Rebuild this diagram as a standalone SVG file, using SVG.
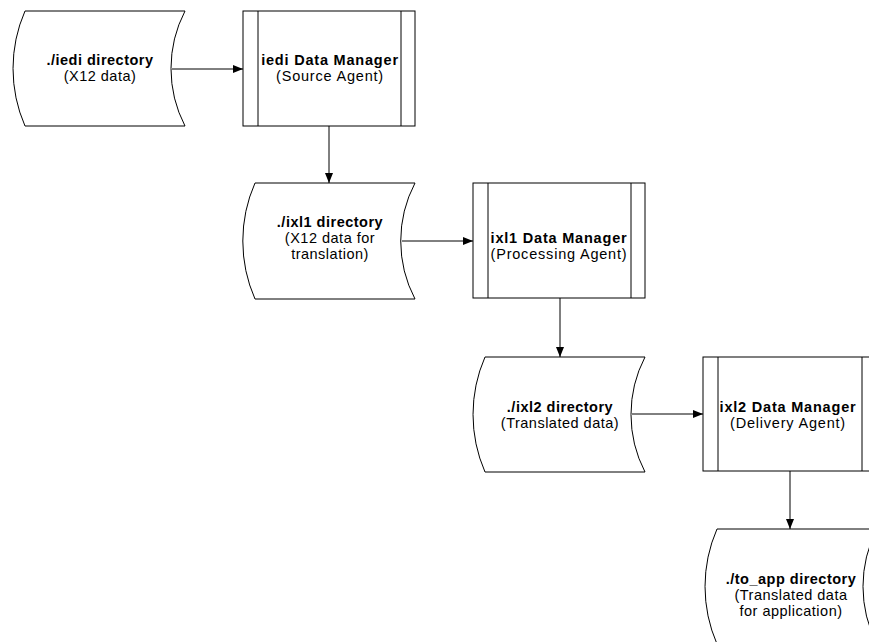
<svg xmlns="http://www.w3.org/2000/svg" width="869" height="642" viewBox="0 0 869 642">
<style>
.shape{fill:#fff;stroke:#000;stroke-width:1}
.edge{fill:none;stroke:#000;stroke-width:1}
text{font-family:"Liberation Sans",Arial,sans-serif;font-size:14.5px;letter-spacing:0.5px;text-anchor:middle;fill:#000}
.b{font-weight:bold}
.m{letter-spacing:0.8px}
</style>
<defs>
<marker id="ah" markerWidth="10" markerHeight="8" refX="10" refY="4" orient="auto" markerUnits="userSpaceOnUse">
<path d="M0,0 L10,4 L0,8 Z" fill="#000"/>
</marker>
</defs>
<rect width="869" height="642" fill="#fff"/>
<g id="connectors">
<line class="edge" x1="172" y1="69" x2="243" y2="69" marker-end="url(#ah)"/>
<line class="edge" x1="329" y1="126" x2="329" y2="183" marker-end="url(#ah)"/>
<line class="edge" x1="402" y1="241" x2="473" y2="241" marker-end="url(#ah)"/>
<line class="edge" x1="560" y1="298" x2="560" y2="357" marker-end="url(#ah)"/>
<line class="edge" x1="632" y1="414" x2="703" y2="414" marker-end="url(#ah)"/>
<line class="edge" x1="790" y1="471" x2="790" y2="529" marker-end="url(#ah)"/>
</g>
<g id="iedi-dir">
<path class="shape" d="M25,11 L185,11 A125,125 0 0,0 185,126 L25,126 A144,144 0 0,1 25,11 Z"/>
<text class="b" x="100" y="65">./iedi directory</text>
<text x="100" y="81">(X12 data)</text>
</g>
<g id="iedi-dm">
<rect class="shape" x="243" y="11" width="172" height="115"/>
<line class="edge" x1="258" y1="11" x2="258" y2="126"/>
<line class="edge" x1="401" y1="11" x2="401" y2="126"/>
<text class="b m" x="330" y="65">iedi Data Manager</text>
<text class="m" x="330" y="81">(Source Agent)</text>
</g>
<g id="ixl1-dir">
<path class="shape" d="M255,183 L415,183 A125,125 0 0,0 415,299 L255,299 A144,144 0 0,1 255,183 Z"/>
<text class="b" x="330" y="226.5">./ixl1 directory</text>
<text x="330" y="242.5">(X12 data for</text>
<text x="330" y="258.5">translation)</text>
</g>
<g id="ixl1-dm">
<rect class="shape" x="473" y="183" width="172" height="115"/>
<line class="edge" x1="488" y1="183" x2="488" y2="298"/>
<line class="edge" x1="631" y1="183" x2="631" y2="298"/>
<text class="b m" x="559" y="242.5">ixl1 Data Manager</text>
<text class="m" x="559" y="258.5">(Processing Agent)</text>
</g>
<g id="ixl2-dir">
<path class="shape" d="M485,357 L645,357 A125,125 0 0,0 645,472 L485,472 A144,144 0 0,1 485,357 Z"/>
<text class="b" x="560" y="411.5">./ixl2 directory</text>
<text x="560" y="427.5">(Translated data)</text>
</g>
<g id="ixl2-dm">
<rect class="shape" x="703" y="357" width="172" height="114"/>
<line class="edge" x1="718" y1="357" x2="718" y2="471"/>
<line class="edge" x1="862" y1="357" x2="862" y2="471"/>
<text class="b m" x="788" y="411.5">ixl2 Data Manager</text>
<text class="m" x="788" y="427.5">(Delivery Agent)</text>
</g>
<g id="toapp-dir">
<path class="shape" d="M717,529 L877,529 A125,125 0 0,0 877,644 L717,644 A144,144 0 0,1 717,529 Z"/>
<text class="b" x="791" y="584">./to_app directory</text>
<text x="791" y="600">(Translated data</text>
<text x="791" y="616">for application)</text>
</g>
</svg>
